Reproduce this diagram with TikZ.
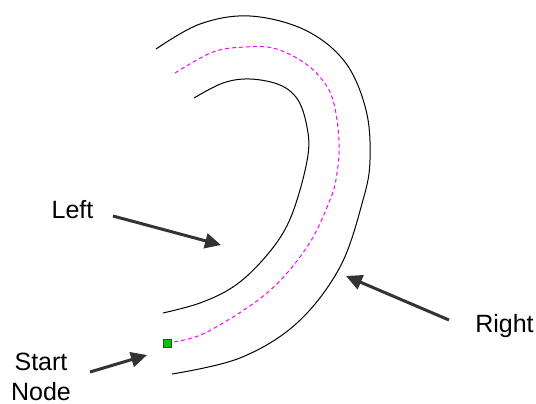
\documentclass[tikz,border=0pt]{standalone}
\usepackage{fontspec}
\setmainfont{Liberation Sans}
\usetikzlibrary{arrows.meta}
\definecolor{cpath}{HTML}{FF00FF}
\definecolor{carrow}{HTML}{333333}
\definecolor{cstart}{HTML}{00C800}

\begin{document}
\begin{tikzpicture}[
  x=0.5pt, y=-0.5pt,
  font=\fontsize{12.5}{15}\selectfont,
  wall/.style={line width=0.5pt, draw=black},
  route/.style={line width=0.5pt, draw=cpath, dash pattern=on 2pt off 1.5pt},
  pointer/.style={-{Triangle[length=8pt, width=7.5pt]}, line width=1.5pt, draw=carrow},
  lbl/.style={anchor=base, inner sep=0pt, align=center},
  startsq/.style={draw=black!75, fill=cstart, minimum size=4pt, inner sep=0pt, line width=0.4pt},
]
\useasboundingbox (0,0) rectangle (536,403);

% ------------------------------------------------------------ walls
\draw[wall] plot[smooth, tension=0.6] coordinates {
  (156,49) (200,24) (250,16) (305,30) (345,62) (366,110) (370,160) (363,200)
  (340,267) (297,323) (240,358) (172,374)};
\draw[wall] plot[smooth, tension=0.6] coordinates {
  (194,98) (223,83) (250,79) (280,85) (298,100) (307,127) (308,155)
  (297,200) (283,233) (260,263) (233,287) (200,303) (163,313)};

% ------------------------------------------------------------ route
\node[startsq] (start) at (167,343) {};
\draw[route] plot[smooth, tension=0.6] coordinates {
  (175,73) (213,52) (245,47) (273,48) (300,60) (320,77) (333,100)
  (339,140) (337,173) (330,200) (307,247) (267,293)
  (207,332) (173,342)};

% ------------------------------------------------------------ labels
\node[lbl] (leftlbl) at (72.5,218) {Left};
\node[lbl] (rightlbl) at (504.5,332) {Right};
\node[lbl] (startlbl) at (41,400) {Start\\Node};

\coordinate (lefttail) at (113,216);
\coordinate (lefttip) at (221,245);
\coordinate (righttail) at (449,320);
\coordinate (righttip) at (346,276);
\coordinate (starttail) at (90,372);
\coordinate (starttip) at (147,355);

\draw[pointer] (lefttail) -- (lefttip);
\draw[pointer] (righttail) -- (righttip);
\draw[pointer] (starttail) -- (starttip);
\end{tikzpicture}
\end{document}
